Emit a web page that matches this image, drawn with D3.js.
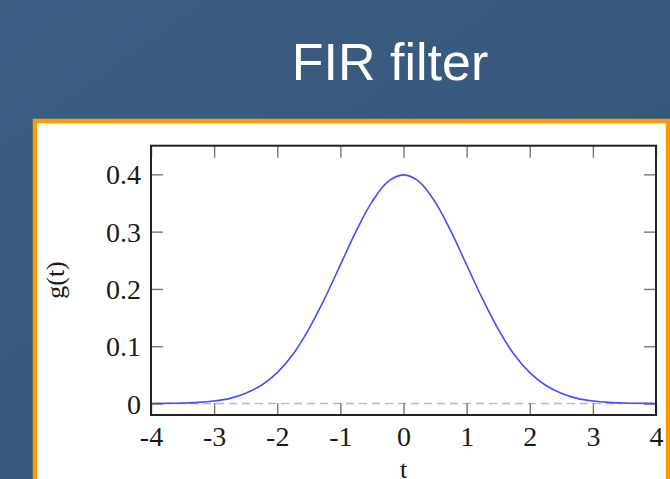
<!DOCTYPE html>
<html>
<head>
<meta charset="utf-8">
<script src="https://cdn.jsdelivr.net/npm/d3@7"></script>
<style>
  html, body { margin: 0; padding: 0; background: #385a7e; }
  svg { display: block; }
</style>
</head>
<body>
<script>
    const width = 670;
    const height = 479;

    // curve samples
    const tValues = [-4, -3.75, -3.5, -3.25, -3, -2.75, -2.5, -2.25, -2, -1.75, -1.5, -1.25, -1, -0.75, -0.5, -0.25,
                     0, 0.25, 0.5, 0.75, 1, 1.25, 1.5, 1.75, 2, 2.25, 2.5, 2.75, 3, 3.25, 3.5, 3.75, 4];
    const gValues = [0.0001, 0.0004, 0.0009, 0.002, 0.0044, 0.009, 0.018, 0.032, 0.054, 0.086, 0.130, 0.183, 0.242, 0.301, 0.352, 0.387,
                     0.399, 0.387, 0.352, 0.301, 0.242, 0.183, 0.130, 0.086, 0.054, 0.032, 0.018, 0.009, 0.0044, 0.002, 0.0009, 0.0004, 0.0001];
    const xTicks = [-4, -3, -2, -1, 0, 1, 2, 3, 4];
    const yTicks = [0, 0.1, 0.2, 0.3, 0.4];

    const svg = d3.select("body")
      .append("svg")
      .attr("width", width)
      .attr("height", height);
    const defs = svg.append("defs");

    // slide background
    const bg = defs.append("linearGradient")
      .attr("id", "bg")
      .attr("x1", "0%").attr("y1", "0%")
      .attr("x2", "100%").attr("y2", "100%");
    bg.append("stop").attr("offset", "0%").attr("stop-color", "#3c5e84");
    bg.append("stop").attr("offset", "100%").attr("stop-color", "#345475");
    svg.append("rect")
      .attr("width", width)
      .attr("height", height)
      .attr("fill", "url(#bg)");

    svg.append("text")
      .attr("x", 390)
      .attr("y", 80)
      .attr("text-anchor", "middle")
      .attr("font-family", "'Liberation Sans', Arial, sans-serif")
      .attr("font-size", 52)
      .attr("fill", "#ffffff")
      .text("FIR filter");

    // orange picture frame
    svg.append("rect")
      .attr("x", 35)
      .attr("y", 121)
      .attr("width", 633)
      .attr("height", 420)
      .attr("fill", "#ffffff")
      .attr("stroke", "#ff9a00")
      .attr("stroke-width", 4.5);

    const x = d3.scaleLinear().domain([-4, 4]).range([151, 656]);
    const y = d3.scaleLinear().domain([-0.02, 0.45]).range([415, 145.7]);

    const serif = "'Liberation Serif', 'DejaVu Serif', serif";

    function styleAxis(g) {
      g.select(".domain").remove();
      g.selectAll(".tick line").attr("stroke", "#777").attr("stroke-width", 1.4);
      g.selectAll(".tick text")
        .attr("font-family", serif)
        .attr("font-size", 28)
        .attr("fill", "#1a1a1a");
    }

    // dashed zero line
    svg.append("line")
      .attr("x1", x(-4)).attr("x2", x(4))
      .attr("y1", y(0)).attr("y2", y(0))
      .attr("stroke", "#bbbbbb")
      .attr("stroke-width", 1.5)
      .attr("stroke-dasharray", "8,5");

    svg.append("g")
      .attr("transform", `translate(0,${y.range()[0]})`)
      .call(d3.axisBottom(x).tickValues(xTicks).tickSize(-12).tickPadding(11).tickFormat(d => String(d)))
      .call(styleAxis);
    svg.append("g")
      .attr("transform", `translate(0,${y.range()[1]})`)
      .call(d3.axisTop(x).tickValues(xTicks).tickSize(-12).tickFormat(""))
      .call(styleAxis);
    svg.append("g")
      .attr("transform", `translate(${x.range()[0]},0)`)
      .call(d3.axisLeft(y).tickValues(yTicks).tickSize(-12).tickPadding(10).tickFormat(d => String(d)))
      .call(styleAxis)
      .selectAll(".tick text").attr("dy", "0.34em");
    svg.append("g")
      .attr("transform", `translate(${x.range()[1]},0)`)
      .call(d3.axisRight(y).tickValues(yTicks).tickSize(-12).tickFormat(""))
      .call(styleAxis);

    // curve
    const line = d3.line()
      .curve(d3.curveCatmullRom)
      .x((d, i) => x(tValues[i]))
      .y(d => y(d));
    svg.append("path")
      .attr("d", line(gValues))
      .attr("fill", "none")
      .attr("stroke", "#4a4aff")
      .attr("stroke-width", 1.6);

    // axis frame
    svg.append("rect")
      .attr("x", x.range()[0])
      .attr("y", y.range()[1])
      .attr("width", x.range()[1] - x.range()[0])
      .attr("height", y.range()[0] - y.range()[1])
      .attr("fill", "none")
      .attr("stroke", "#222")
      .attr("stroke-width", 2);

    // axis labels
    svg.append("text")
      .attr("x", 403.5)
      .attr("y", 478)
      .attr("text-anchor", "middle")
      .attr("font-family", serif)
      .attr("font-size", 26)
      .attr("fill", "#1a1a1a")
      .text("t");
    svg.append("text")
      .attr("transform", "translate(56,280) rotate(-90)")
      .attr("text-anchor", "middle")
      .attr("dy", "0.3em")
      .attr("font-family", serif)
      .attr("font-size", 26)
      .attr("fill", "#1a1a1a")
      .text("g(t)");
</script>
</body>
</html>
